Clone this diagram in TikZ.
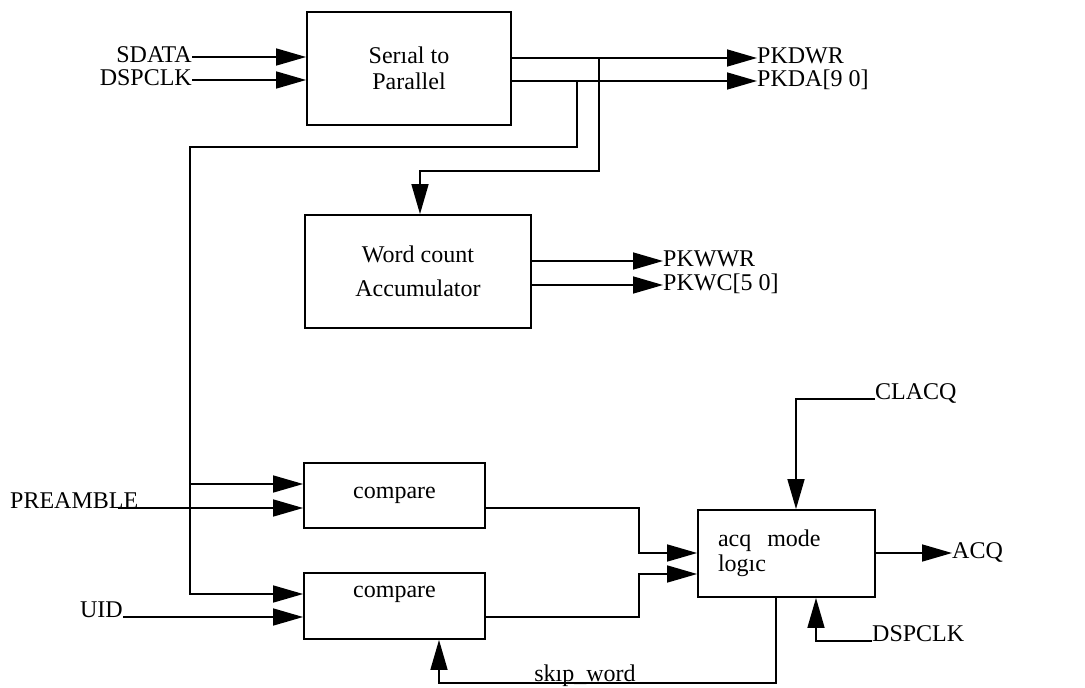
\documentclass[tikz,border=0pt]{standalone}
\usepackage{fontspec}
\setmainfont{Liberation Serif}
\usepackage{tikz}
\usetikzlibrary{positioning,arrows.meta,calc}

\begin{document}
\begin{tikzpicture}[x=1pt,y=-1pt,
    blk/.style={draw,line width=1.8pt,inner sep=0pt,font=\fontsize{24}{28}\selectfont},
    sig/.style={line width=1.6pt},
    arr/.style={sig,-{Triangle[length=30pt,width=17pt]}},
    lbl/.style={inner sep=0pt,font=\fontsize{24}{28}\selectfont}]
  \useasboundingbox (0,0) rectangle (1085,688);
  % blocks
  \node[blk,minimum width=204pt,minimum height=113pt,align=center,font=\fontsize{24}{26}\selectfont] (s2p) at (409,68.5) {Serıal to\\Parallel};
  \node[blk,minimum width=226pt,minimum height=113pt,align=center,font=\fontsize{24}{34}\selectfont] (wc) at (418,271.5) {Word count\\Accumulator};
  \node[blk,minimum width=181pt,minimum height=65pt] (cmpa) at (394.5,495.5) {compare};
  \node[blk,minimum width=181pt,minimum height=66pt,align=center] (cmpb) at (394.5,606) {compare\\\mbox{}};
  \node[blk,minimum width=177pt,minimum height=87pt,text width=137pt,align=left,font=\fontsize{24}{25}\selectfont] (acq) at (786.5,553.5) {acq\hspace{16pt}mode\\logıc};
  % serial input
  \foreach \nm/\txt/\yy in {sdata/SDATA/62,dspclka/DSPCLK/85}{
    \node[lbl,anchor=base east] (\nm) at (192,\yy) {\txt};
    \coordinate (\nm-p) at ([yshift=5pt]\nm.base east);
    \draw[arr] (\nm-p) -- (\nm-p -| s2p.west);
  }
  % parallel outputs
  \foreach \nm/\txt/\yy in {pkdwr/PKDWR/63,pkda/{PKDA[9 0]}/86}{
    \node[lbl,anchor=base west] (\nm) at (757,\yy) {\txt};
    \coordinate (\nm-p) at ([yshift=5pt]\nm.base west);
    \draw[arr] (s2p.east |- \nm-p) -- (\nm-p);
  }
  \foreach \nm/\txt/\yy in {pkwwr/PKWWR/266,pkwc/{PKWC[5 0]}/290}{
    \node[lbl,anchor=base west] (\nm) at (663,\yy) {\txt};
    \coordinate (\nm-p) at ([yshift=5pt]\nm.base west);
    \draw[arr] (wc.east |- \nm-p) -- (\nm-p);
  }
  % taps and the left bus
  \coordinate (tapa) at (577,147);
  \coordinate (tapb) at (599,171);
  \coordinate (wcin) at (420,171);
  \coordinate (bus) at (190,594);
  \coordinate (bustap) at (190,484);
  \draw[arr] (tapa |- pkda-p) -- (tapa) -| (bus) -- (bus -| cmpb.west);
  \draw[arr] (bustap) -- (bustap -| cmpa.west);
  \draw[arr] (tapb |- pkdwr-p) -- (tapb) -- (wcin) -- (wcin |- wc.north);
  % compare inputs
  \node[lbl,anchor=base west] (preamble) at (10,508) {PREAMBLE};
  \node[lbl,anchor=base east] (uid) at (123,617) {UID};
  \draw[arr] ([xshift=-20pt]preamble.base east) -- (preamble.base east -| cmpa.west);
  \draw[arr] (uid.base east) -- (uid.base east -| cmpb.west);
  % into acq mode logic
  \coordinate (ja) at (639,553);
  \coordinate (jb) at (639,574);
  \draw[arr] (cmpa.east |- preamble.base east) -| (ja) -- (ja -| acq.west);
  \draw[arr] (cmpb.east |- uid.base east) -| (jb) -- (jb -| acq.west);
  \node[lbl,anchor=base west] (clacq) at (875,399) {CLACQ};
  \node[lbl,anchor=base west] (acqout) at (952,558) {ACQ};
  \node[lbl,anchor=base west] (dspclkb) at (872,641) {DSPCLK};
  \coordinate (clin) at (796,0);
  \coordinate (clkin) at (816,0);
  \coordinate (acqo) at ([yshift=5pt]acqout.base west);
  \draw[arr] (clacq.base west) -| (clin |- acq.north);
  \draw[arr] (acq.east |- acqo) -- (acqo);
  \draw[arr] (dspclkb.base west) -| (clkin |- acq.south);
  % skip word feedback
  \coordinate (skx) at (776,683);
  \coordinate (sky) at (439,683);
  \draw[arr] (skx |- acq.south) -- (skx) -- node[lbl,anchor=base,pos=0.567,yshift=2pt] (skip) {skıp\_word} (sky) -- (sky |- cmpb.south);
\end{tikzpicture}
\end{document}
